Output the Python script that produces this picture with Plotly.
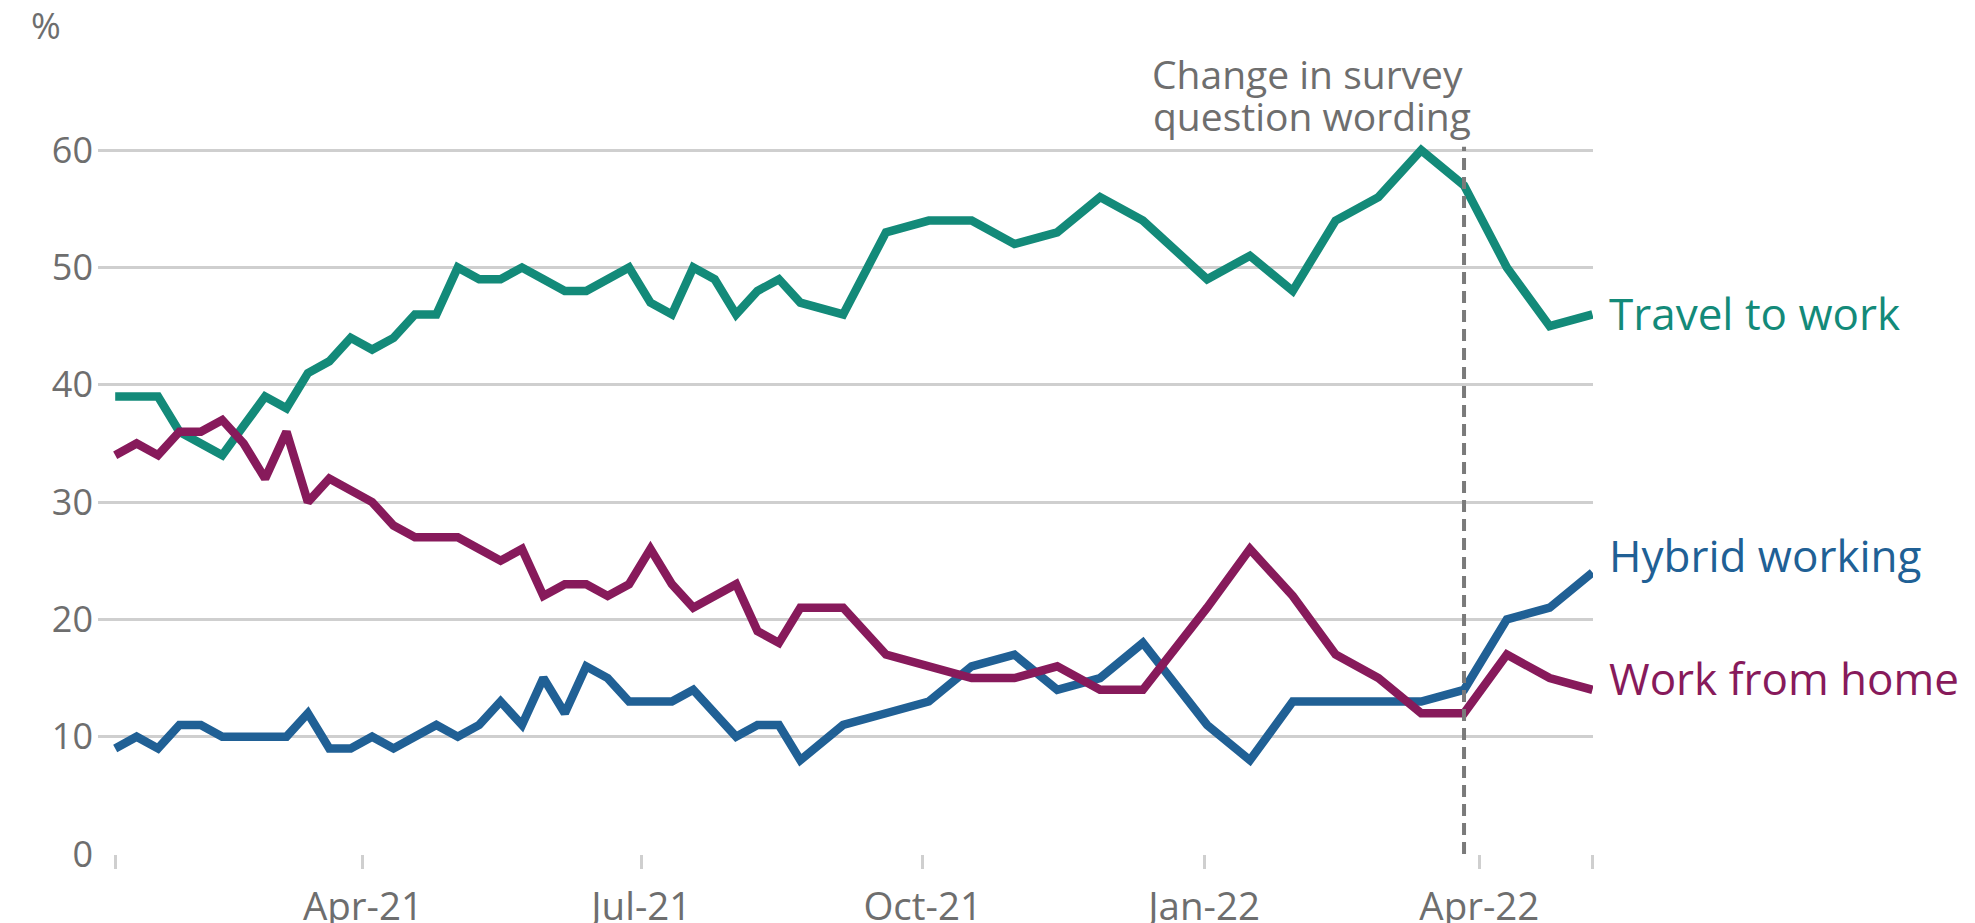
import plotly.graph_objects as go

# ---- data ----
dates = [
    "2021-01-10", "2021-01-17", "2021-01-24", "2021-01-31", "2021-02-07", "2021-02-14",
    "2021-02-21", "2021-02-28", "2021-03-07", "2021-03-14", "2021-03-21", "2021-03-28",
    "2021-04-04", "2021-04-11", "2021-04-18", "2021-04-25", "2021-05-02", "2021-05-09",
    "2021-05-16", "2021-05-23", "2021-05-30", "2021-06-06", "2021-06-13", "2021-06-20",
    "2021-06-27", "2021-07-04", "2021-07-11", "2021-07-18", "2021-07-25", "2021-08-01",
    "2021-08-08", "2021-08-15", "2021-08-22", "2021-09-05", "2021-09-19", "2021-10-03",
    "2021-10-17", "2021-10-31", "2021-11-14", "2021-11-28", "2021-12-12", "2022-01-02",
    "2022-01-16", "2022-01-30", "2022-02-13", "2022-02-27", "2022-03-13", "2022-03-27",
    "2022-04-10", "2022-04-24", "2022-05-08",
]

travel_to_work = [
    39, 39, 39, 36, 35, 34, 36.5, 39, 38, 41, 42, 44,
    43, 44, 46, 46, 50, 49, 49, 50, 49, 48, 48, 49,
    50, 47, 46, 50, 49, 46, 48, 49, 47, 46, 53, 54,
    54, 52, 53, 56, 54, 49, 51, 48, 54, 56, 60, 57,
    50, 45, 46,
]

work_from_home = [
    34, 35, 34, 36, 36, 37, 35, 32, 36, 30, 32, 31,
    30, 28, 27, 27, 27, 26, 25, 26, 22, 23, 23, 22,
    23, 26, 23, 21, 22, 23, 19, 18, 21, 21, 17, 16,
    15, 15, 16, 14, 14, 21, 26, 22, 17, 15, 12, 12,
    17, 15, 14,
]

hybrid_working = [
    9, 10, 9, 11, 11, 10, 10, 10, 10, 12, 9, 9,
    10, 9, 10, 11, 10, 11, 13, 11, 15, 12, 16, 15,
    13, 13, 13, 14, 12, 10, 11, 11, 8, 11, 12, 13,
    16, 17, 14, 15, 18, 11, 8, 13, 13, 13, 13, 14,
    20, 21, 24,
]

series_names = ["Travel to work", "Hybrid working", "Work from home"]
series_values = [travel_to_work, hybrid_working, work_from_home]
series_colors = ["#138a79", "#206095", "#871a5b"]
label_yshift = [1, 17, 12]

tick_dates = ["2021-01-10", "2021-04-01", "2021-07-01", "2021-10-01",
              "2022-01-01", "2022-04-01", "2022-05-08"]
tick_labels = ["", "Apr-21", "Jul-21", "Oct-21", "Jan-22", "Apr-22", ""]

y_ticks = [0, 10, 20, 30, 40, 50, 60]

change_date = "2022-03-27"
change_text = ["Change in survey", "question wording"]

# ---- figure ----
FONT = "Open Sans"
GREY_TEXT = "#6e6e6e"
GRID = "#cfcfcf"

fig = go.Figure()
for name, vals, col in zip(series_names, series_values, series_colors):
    fig.add_trace(go.Scatter(
        x=dates, y=vals, mode="lines", name=name,
        line=dict(color=col, width=8.5),
        showlegend=False, hoverinfo="skip",
    ))

# dashed marker for change in question wording
fig.add_shape(
    type="line", xref="x", yref="y",
    x0=change_date, x1=change_date, y0=0, y1=60.3,
    line=dict(color="#7a7a7a", width=4, dash="12px,7px"),
    layer="above",
)

annotations = []
# series end labels
for name, vals, col, ys in zip(series_names, series_values, series_colors, label_yshift):
    annotations.append(dict(
        x=dates[-1], y=vals[-1], xref="x", yref="y",
        text=name, showarrow=False, xanchor="left", yanchor="middle",
        xshift=15, yshift=ys,
        font=dict(family=FONT, size=44, color=col),
    ))

# change annotation (two separately placed lines)
for txt, ysh, xsh in zip(change_text, [77, 35], [-157, -152]):
    annotations.append(dict(
        x=change_date, y=60, xref="x", yref="y",
        text=txt, showarrow=False, xanchor="center", yanchor="middle",
        xshift=xsh, yshift=ysh,
        font=dict(family=FONT, size=39, color=GREY_TEXT),
    ))

# unit label
annotations.append(dict(
    x=0, y=1, xref="paper", yref="paper", text="%", showarrow=False,
    xanchor="center", yanchor="middle", xshift=-52, yshift=90,
    font=dict(family=FONT, size=36, color=GREY_TEXT),
))

fig.update_layout(
    width=1975, height=923,
    margin=dict(l=98, r=382, t=115, b=69, autoexpand=False),
    paper_bgcolor="white", plot_bgcolor="white",
    annotations=annotations,
    font=dict(family=FONT, color=GREY_TEXT),
    xaxis=dict(
        type="date",
        range=["2021-01-04 09:00", "2022-05-08 04:00"],
        tickvals=tick_dates, ticktext=tick_labels,
        showgrid=False, zeroline=False, showline=False,
        ticks="outside", ticklen=14, tickwidth=2.5, tickcolor=GRID,
        ticklabelstandoff=5,
        tickfont=dict(family=FONT, size=38.5, color=GREY_TEXT),
        automargin=False,
    ),
    yaxis=dict(
        range=[0, 63],
        tickvals=y_ticks,
        showgrid=True, gridcolor=GRID, gridwidth=2.5,
        zeroline=False, showline=False, ticks="",
        ticklabelstandoff=4,
        tickfont=dict(family=FONT, size=36, color=GREY_TEXT),
        automargin=False,
    ),
)

fig.write_html(
    "out.html",
    config={"displayModeBar": False},
    post_script="document.body.style.margin='0';document.body.style.padding='0';"
                "document.body.style.overflow='hidden';",
)
